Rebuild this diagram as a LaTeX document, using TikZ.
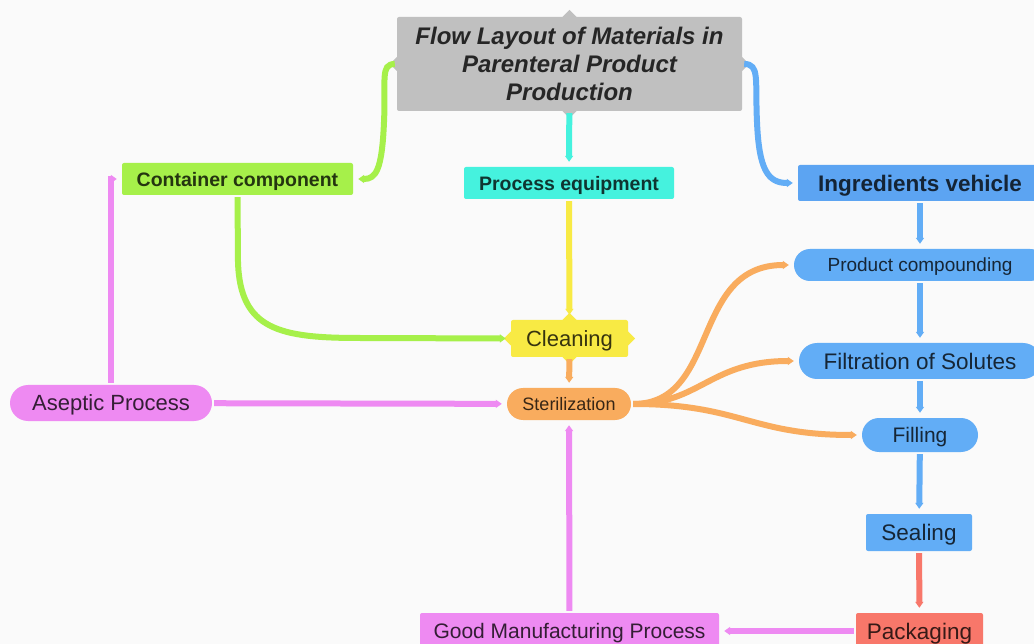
\documentclass[tikz,border=0pt]{standalone}
\usepackage{fontspec}
\setmainfont{Liberation Sans}
\usetikzlibrary{arrows.meta}
\definecolor{paper}{HTML}{FAFAFA}
\definecolor{titlegray}{HTML}{C0C0C0}
\definecolor{leafgreen}{HTML}{A6F04A}
\definecolor{aqua}{HTML}{45F2DE}
\definecolor{skyblue}{HTML}{62ADF6}
\definecolor{deepblue}{HTML}{5CA4F2}
\definecolor{lemon}{HTML}{F8EA44}
\definecolor{apricot}{HTML}{F9AC5E}
\definecolor{orchid}{HTML}{EE8AF2}
\definecolor{salmon}{HTML}{F8776A}

\begin{document}
\begin{tikzpicture}[x=1pt,y=-1pt,
    box/.style={fill=#1, text=#1!22!black, rounded corners=2pt, inner sep=0pt},
    pill/.style={box=#1, rounded corners=16pt},
    txt/.code={\pgfmathsetmacro\txtht{0.72*#1}\tikzset{font=\fontsize{#1}{#1}\selectfont, text height=\txtht pt, text depth=0pt}},
    txtbf/.code={\pgfmathsetmacro\txtht{0.72*#1}\tikzset{font=\fontsize{#1}{#1}\selectfont\bfseries, text height=\txtht pt, text depth=0pt}},
    link/.style={draw=#1, line width=6pt, -{Triangle[length=6pt,width=8pt]}, shorten >=5pt, shorten <=2pt}]
    \useasboundingbox (0,0) rectangle (1034,644);
    \fill[paper] (0,0) rectangle (1034,644);

    \node[box=titlegray, text=black!85, minimum width=345, minimum height=94, align=center, font=\fontsize{24}{28}\selectfont\bfseries\itshape] (title) at (569.5,64) {Flow Layout of Materials in\\Parenteral Product\\Production};
    \node[box=leafgreen, minimum width=231, minimum height=32, txtbf=19.5] (container) at (237.5,179) {Container component};
    \node[box=aqua, minimum width=210, minimum height=32, txtbf=19.5] (equipment) at (569,183) {Process equipment};
    \node[box=deepblue, minimum width=244, minimum height=36, txtbf=22.5] (vehicle) at (920,183) {Ingredients vehicle};
    \node[pill=skyblue, minimum width=252, minimum height=32, txt=19] (compounding) at (920,265) {Product compounding};
    \node[pill=skyblue, rounded corners=18pt, minimum width=242, minimum height=36, txt=22.5] (filtration) at (920,361) {Filtration of Solutes};
    \node[pill=skyblue, rounded corners=17pt, minimum width=116, minimum height=34, txt=21] (filling) at (920,435) {Filling};
    \node[box=skyblue, minimum width=106, minimum height=37, txt=22.5] (sealing) at (919,532.5) {Sealing};
    \node[box=salmon, minimum width=127, minimum height=36, txt=22.5] (packaging) at (919.5,631) {Packaging};
    \node[box=orchid, minimum width=299, minimum height=36, txt=21] (gmp) at (569.5,631) {Good Manufacturing Process};
    \node[box=lemon, minimum width=117, minimum height=37, txt=22] (cleaning) at (569.5,338.5) {Cleaning};
    \node[pill=apricot, minimum width=124, minimum height=32, txt=18] (sterilization) at (569,404) {Sterilization};
    \node[pill=orchid, rounded corners=18pt, minimum width=202, minimum height=36, txt=22] (aseptic) at (111,403) {Aseptic Process};

    \foreach \n/\c in {title/titlegray, cleaning/lemon}
        \foreach \a in {north,south,east,west}
            \fill[\c] (\n.\a) +(-7,0) -- +(0,-7) -- +(7,0) -- +(0,7) -- cycle;

    \draw[link=leafgreen] (title.west) .. controls (380,64) and (386,80) .. (384,122) .. controls (382,170) and (376,179) .. (container.east);
    \draw[link=skyblue] (title.east) .. controls (760,64) and (755,80) .. (757,122) .. controls (759,170) and (768,183) .. (vehicle.west);
    \draw[link=aqua] (title) -- (equipment);
    \draw[link=lemon] (equipment) -- (cleaning);
    \draw[link=leafgreen] (container.south) -- (238,262) .. controls (240,330) and (280,338) .. (360,338) -- (cleaning.west);
    \draw[link=apricot] (cleaning) -- (sterilization);
    \draw[link=orchid] (aseptic.north) |- (container.west);
    \draw[link=orchid] (aseptic) -- (sterilization);
    \draw[link=orchid] (gmp) -- (sterilization);
    \draw[link=orchid] (packaging) -- (gmp);
    \draw[link=apricot] (sterilization.east) .. controls (720,404) and (690,265) .. (compounding.west);
    \draw[link=apricot] (sterilization.east) .. controls (700,404) and (710,361) .. (filtration.west);
    \draw[link=apricot] (sterilization.east) .. controls (740,404) and (750,435) .. (filling.west);
    \draw[link=skyblue] (vehicle) -- (compounding);
    \draw[link=skyblue] (compounding) -- (filtration);
    \draw[link=skyblue] (filtration) -- (filling);
    \draw[link=skyblue] (filling) -- (sealing);
    \draw[link=salmon] (sealing) -- (packaging);
\end{tikzpicture}
\end{document}
